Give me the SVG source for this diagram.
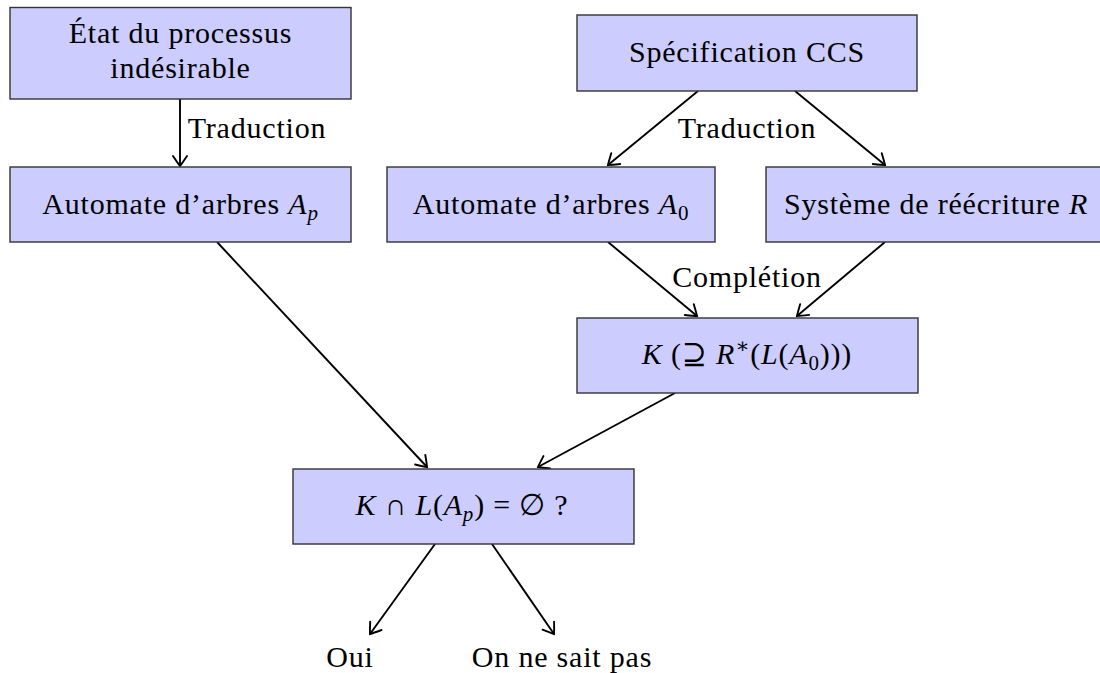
<svg xmlns="http://www.w3.org/2000/svg" width="1100" height="673" viewBox="0 0 1100 673">
<defs>
<style>
.box{fill:#ccccff;stroke:#333;stroke-width:1.4}
text{font-family:"Liberation Serif","DejaVu Serif",serif;font-size:30px;letter-spacing:0.8px;fill:#000;text-anchor:middle}
.m{font-style:italic}
.e{stroke:#000;stroke-width:1.9;fill:none;marker-end:url(#arr)}
</style>
<marker id="arr" markerUnits="userSpaceOnUse" markerWidth="18" markerHeight="18" viewBox="-13 -9 15 18" refX="0" refY="0" orient="auto">
<path d="M -10 -7 Q -2.5 -2 0 0 Q -2.5 2 -10 7" fill="none" stroke="#000" stroke-width="1.9" stroke-linecap="round"/>
</marker>
</defs>
<rect width="1100" height="673" fill="#fff"/>
<g id="edges">
<line class="e" x1="180" y1="99" x2="180" y2="166"/>
<line class="e" x1="698" y1="91" x2="608" y2="165"/>
<line class="e" x1="795" y1="91" x2="885" y2="165"/>
<line class="e" x1="608" y1="242" x2="697" y2="316"/>
<line class="e" x1="885" y1="242" x2="797" y2="316"/>
<line class="e" x1="217" y1="242" x2="427" y2="467"/>
<line class="e" x1="675" y1="393" x2="538" y2="467"/>
<line class="e" x1="435" y1="544" x2="370" y2="634"/>
<line class="e" x1="492" y1="544" x2="554" y2="634"/>
<text x="257" y="138">Traduction</text>
<text x="747" y="138">Traduction</text>
<text x="747" y="287">Complétion</text>
</g>
<g id="etat">
<rect class="box" x="10" y="7.5" width="341" height="91.5"/>
<text x="180.5" y="43">État du processus</text>
<text x="180.5" y="78">indésirable</text>
</g>
<g id="ap">
<rect class="box" x="10" y="167" width="341" height="75"/>
<text x="180.5" y="214">Automate d’arbres <tspan class="m">A</tspan><tspan class="m" font-size="21" dy="6">p</tspan></text>
</g>
<g id="ccs">
<rect class="box" x="577" y="15" width="340" height="76"/>
<text x="747" y="62">Spécification CCS</text>
</g>
<g id="a0">
<rect class="box" x="387" y="167" width="328" height="75"/>
<text x="551" y="214">Automate d’arbres <tspan class="m">A</tspan><tspan font-size="21" dy="6">0</tspan></text>
</g>
<g id="r">
<rect class="box" x="766" y="167" width="340" height="75"/>
<text x="936" y="214">Système de réécriture <tspan class="m">R</tspan></text>
</g>
<g id="k">
<rect class="box" x="577" y="318" width="341" height="75"/>
<text x="747" y="364"><tspan class="m">K</tspan> (⊇ <tspan class="m">R</tspan><tspan font-size="21" dy="-11">∗</tspan><tspan dy="11">(</tspan><tspan class="m">L</tspan>(<tspan class="m">A</tspan><tspan font-size="21" dy="6">0</tspan><tspan dy="-6">)))</tspan></text>
</g>
<g id="inter">
<rect class="box" x="293" y="469" width="341" height="75"/>
<text x="462" y="515"><tspan class="m">K</tspan> ∩ <tspan class="m">L</tspan>(<tspan class="m">A</tspan><tspan class="m" font-size="21" dy="6">p</tspan><tspan dy="-6">) = ∅ ?</tspan></text>
</g>
<g id="oui">
<text x="350" y="667">Oui</text>
</g>
<g id="onnesaitpas">
<text x="562" y="667">On ne sait pas</text>
</g>
</svg>
